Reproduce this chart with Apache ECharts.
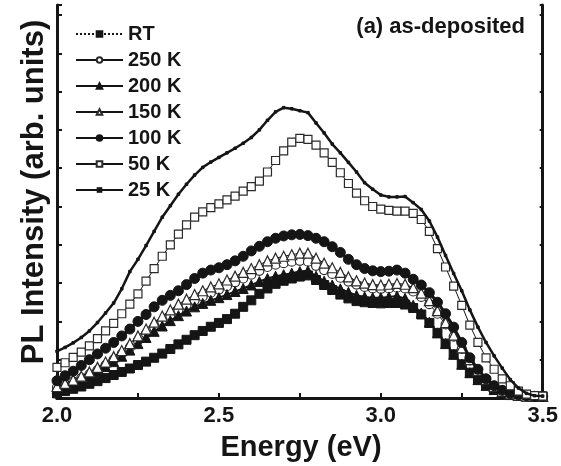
<!DOCTYPE html>
<html>
<head>
<meta charset="utf-8">
<script src="https://cdn.jsdelivr.net/npm/echarts@6/dist/echarts.min.js"></script>
<style>
html,body{margin:0;padding:0;background:#fff;}
#chart{width:561px;height:466px;}
</style>
</head>
<body>
<div id="chart"></div>
<script>
var energy = [2.000,2.025,2.050,2.075,2.100,2.125,2.150,2.175,2.200,2.225,2.250,2.275,2.300,2.325,2.350,2.375,2.400,2.425,2.450,2.475,2.500,2.525,2.550,2.575,2.600,2.625,2.650,2.675,2.700,2.725,2.750,2.775,2.800,2.825,2.850,2.875,2.900,2.925,2.950,2.975,3.000,3.025,3.050,3.075,3.100,3.125,3.150,3.175,3.200,3.225,3.250,3.275,3.300,3.325,3.350,3.375,3.400,3.425,3.450,3.475,3.500];

var seriesNames = ['RT','250 K','200 K','150 K','100 K','50 K','25 K'];

var rtValues = [0.12,0.18,0.24,0.30,0.37,0.44,0.52,0.60,0.68,0.77,0.86,0.95,1.05,1.16,1.28,1.40,1.52,1.64,1.75,1.86,1.96,2.06,2.20,2.38,2.55,2.72,2.86,2.98,3.06,3.12,3.17,3.20,3.08,2.95,2.82,2.70,2.60,2.53,2.50,2.48,2.47,2.48,2.48,2.44,2.35,2.18,1.96,1.70,1.42,1.14,0.88,0.66,0.48,0.33,0.22,0.14,0.09,0.06,0.05,0.04,0.04];

var k250Values = [0.28,0.35,0.43,0.52,0.62,0.73,0.86,1.00,1.15,1.32,1.50,1.68,1.85,2.00,2.15,2.30,2.43,2.55,2.65,2.75,2.83,2.92,3.02,3.12,3.22,3.32,3.42,3.48,3.52,3.56,3.58,3.56,3.45,3.34,3.24,3.14,3.04,2.96,2.90,2.86,2.85,2.86,2.88,2.86,2.78,2.64,2.45,2.20,1.92,1.60,1.28,0.98,0.71,0.48,0.31,0.19,0.12,0.08,0.05,0.04,0.04];

var k200Values = [0.25,0.32,0.40,0.49,0.59,0.70,0.82,0.95,1.09,1.25,1.42,1.58,1.74,1.88,2.02,2.15,2.27,2.38,2.47,2.55,2.62,2.70,2.78,2.86,2.95,3.04,3.12,3.18,3.22,3.26,3.30,3.32,3.18,3.05,2.95,2.85,2.76,2.68,2.64,2.62,2.62,2.64,2.66,2.60,2.42,2.22,1.98,1.70,1.42,1.14,0.88,0.66,0.48,0.33,0.22,0.14,0.09,0.07,0.05,0.04,0.04];

var k150Values = [0.30,0.38,0.47,0.57,0.68,0.80,0.94,1.08,1.24,1.42,1.62,1.80,1.98,2.14,2.30,2.45,2.58,2.70,2.80,2.90,2.98,3.08,3.18,3.28,3.38,3.48,3.58,3.65,3.70,3.74,3.78,3.78,3.65,3.52,3.40,3.28,3.16,3.06,3.00,2.96,2.95,2.97,2.99,2.97,2.88,2.74,2.54,2.28,1.97,1.64,1.31,1.00,0.72,0.48,0.30,0.18,0.11,0.07,0.05,0.04,0.04];

var k100Values = [0.45,0.58,0.70,0.85,1.00,1.15,1.30,1.45,1.62,1.80,2.00,2.18,2.38,2.55,2.68,2.80,2.96,3.12,3.26,3.34,3.40,3.48,3.58,3.70,3.84,3.96,4.08,4.17,4.23,4.26,4.27,4.24,4.17,4.08,3.95,3.80,3.62,3.48,3.38,3.32,3.30,3.31,3.34,3.26,3.10,2.95,2.75,2.50,2.20,1.85,1.45,1.05,0.75,0.50,0.32,0.20,0.12,0.08,0.06,0.04,0.04];

var k50Values = [0.80,0.92,1.06,1.20,1.36,1.55,1.75,1.95,2.20,2.45,2.72,3.05,3.38,3.70,4.00,4.28,4.52,4.72,4.86,4.97,5.07,5.17,5.27,5.40,5.52,5.66,5.90,6.20,6.45,6.68,6.78,6.75,6.60,6.40,6.15,5.88,5.60,5.35,5.15,5.00,4.93,4.90,4.88,4.88,4.82,4.66,4.35,3.90,3.42,2.92,2.42,1.90,1.45,1.05,0.75,0.50,0.32,0.18,0.10,0.06,0.05];

var k25Values = [1.22,1.32,1.44,1.58,1.75,1.97,2.22,2.48,2.85,3.30,3.62,3.98,4.35,4.72,5.02,5.32,5.58,5.82,6.02,6.16,6.28,6.40,6.52,6.65,6.80,7.00,7.25,7.47,7.58,7.55,7.50,7.45,7.18,6.92,6.63,6.40,6.15,5.90,5.62,5.45,5.30,5.25,5.25,5.26,5.10,4.92,4.62,4.20,3.72,3.25,2.80,2.30,1.85,1.45,1.10,0.78,0.48,0.26,0.12,0.06,0.05];

var xTickLabels = ['2.0','2.5','3.0','3.5'];
var xTitle = 'Energy (eV)';
var yTitle = 'PL Intensity (arb. units)';
var panelLabel = '(a) as-deposited';

function pairs(vals){ return energy.map(function(e,i){ return [e, vals[i]]; }); }

var ink = '#151515';
var FONT = '"Liberation Sans", Arial, Helvetica, sans-serif';

var chart = echarts.init(document.getElementById('chart'), null, {renderer:'canvas'});

function mk(name, vals, symbol, size, filled, lineType, lineWidth, z){
  return {
    name: name, type: 'line', data: pairs(vals),
    symbol: symbol, symbolSize: size, showAllSymbol: true,
    lineStyle: {color: ink, width: lineWidth, type: lineType},
    itemStyle: filled ? {color: ink, borderColor: ink, borderWidth: 1} : {color: '#fff', borderColor: '#2a2a2a', borderWidth: 1.2},
    emphasis: {disabled: true},
    z: z
  };
}

var legendData = seriesNames.map(function(n, i){
  if (i === seriesNames.length - 1) return {name: n, itemStyle: {borderWidth: 0}};
  return {name: n};
});

var option = {
  animation: false,
  backgroundColor: '#fff',
  grid: {left: 57, right: 15, top: 5, bottom: 68},
  xAxis: [{
    type: 'value', min: 2, max: 3.5, interval: 0.25,
    axisLine: {lineStyle: {color: ink, width: 3}},
    axisTick: {inside: true, length: 5, lineStyle: {color: ink, width: 2}},
    axisLabel: {
      margin: 7, color: ink, fontSize: 22, fontWeight: 'bold', fontFamily: FONT,
      formatter: function(v){
        for (var i=0;i<xTickLabels.length;i++){ if (Math.abs(parseFloat(xTickLabels[i]) - v) < 1e-6) return xTickLabels[i]; }
        return '';
      }
    },
    splitLine: {show: false}
  },{
    type: 'value', min: 2, max: 3.5, position: 'top',
    axisLine: {lineStyle: {color: ink, width: 3}},
    axisTick: {show: false}, axisLabel: {show: false}, splitLine: {show: false}
  }],
  yAxis: [{
    type: 'value', min: 0, max: 10.26, interval: 1,
    axisLine: {show: true, lineStyle: {color: ink, width: 3}},
    axisTick: {show: true, inside: true, length: 5, lineStyle: {color: ink, width: 2}},
    axisLabel: {show: false}, splitLine: {show: false}
  },{
    type: 'value', min: 0, max: 10.26, interval: 1, position: 'right',
    axisLine: {show: true, lineStyle: {color: ink, width: 3}},
    axisTick: {show: true, inside: true, length: 3, lineStyle: {color: ink, width: 2}},
    axisLabel: {show: false}, splitLine: {show: false}
  }],
  legend: {
    orient: 'vertical', left: 70, top: 19,
    itemWidth: 47, itemHeight: 7, itemGap: 6,
    data: legendData,
    textStyle: {color: ink, fontSize: 20, fontWeight: 'bold', fontFamily: FONT, lineHeight: 20},
    selectedMode: false
  },
  graphic: [
    {type: 'text', x: 525, y: 27, style: {text: panelLabel, fill: ink, font: 'bold 22px ' + FONT, textAlign: 'right', textVerticalAlign: 'middle'}},
    {type: 'text', x: 301, y: 448, style: {text: xTitle, fill: ink, font: 'bold 29px ' + FONT, textAlign: 'center', textVerticalAlign: 'middle'}},
    {type: 'text', x: 34, y: 192, rotation: Math.PI/2, style: {text: yTitle, fill: ink, font: 'bold 31px ' + FONT, textAlign: 'center', textVerticalAlign: 'middle'}}
  ],
  series: [
    mk(seriesNames[0], rtValues, 'rect', 9, true, 'dotted', 1.5, 2),
    mk(seriesNames[1], k250Values, 'circle', 9, false, 'solid', 1, 3),
    mk(seriesNames[2], k200Values, 'triangle', 10, true, 'solid', 2, 4),
    mk(seriesNames[3], k150Values, 'triangle', 10, false, 'solid', 1, 5),
    mk(seriesNames[4], k100Values, 'circle', 10, true, 'solid', 3, 6),
    mk(seriesNames[5], k50Values, 'rect', 8, false, 'solid', 1, 7),
    mk(seriesNames[6], k25Values, 'rect', 2.5, true, 'solid', 2.5, 8)
  ]
};
chart.setOption(option);
</script>
</body>
</html>
